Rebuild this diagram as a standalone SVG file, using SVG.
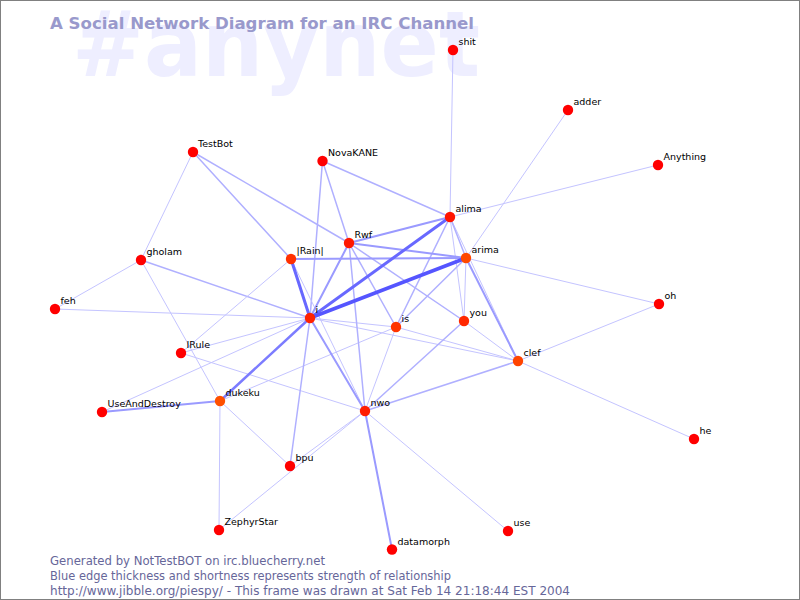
<svg xmlns="http://www.w3.org/2000/svg" width="800" height="600" viewBox="0 0 800 600">
<style>
.wm{font-family:"DejaVu Sans",sans-serif;font-weight:bold;font-size:90px;fill:#eeeeff}
.title{font-family:"DejaVu Sans",sans-serif;font-weight:bold;font-size:16.6px;fill:#9999cc}
.foot{font-family:"DejaVu Sans",sans-serif;font-size:11.5px;fill:#666699}
.lbl{font-family:"DejaVu Sans",sans-serif;font-size:9.5px;fill:#000000}
.edges line{stroke-linecap:round}
.e1{stroke:#c4c4ff;stroke-width:1}
.e2{stroke:#b0b0ff;stroke-width:1.5}
.e3{stroke:#9a9aff;stroke-width:2}
.e4{stroke:#7c7cff;stroke-width:2.5}
.e5{stroke:#6868ff;stroke-width:3}
.e6{stroke:#5555ff;stroke-width:3.5}
</style>
<rect x="0" y="0" width="800" height="600" fill="#ffffff"/>
<text class="wm" x="72" y="76" textLength="408" lengthAdjust="spacingAndGlyphs">#anynet</text>
<text class="title" x="50" y="29">A Social Network Diagram for an IRC Channel</text>
<g class="edges" id="connectors">
<line class="e1" x1="453" y1="50" x2="450" y2="217"/>
<line class="e1" x1="568" y1="110" x2="466" y2="258"/>
<line class="e1" x1="658" y1="165" x2="450" y2="217"/>
<line class="e2" x1="322.5" y1="161" x2="450" y2="217"/>
<line class="e2" x1="322.5" y1="161" x2="349" y2="243"/>
<line class="e2" x1="322.5" y1="161" x2="310" y2="318"/>
<line class="e1" x1="193" y1="152" x2="141" y2="260"/>
<line class="e2" x1="193" y1="152" x2="291" y2="259"/>
<line class="e2" x1="193" y1="152" x2="349" y2="243"/>
<line class="e1" x1="141" y1="260" x2="55" y2="309"/>
<line class="e2" x1="141" y1="260" x2="310" y2="318"/>
<line class="e1" x1="141" y1="260" x2="220" y2="401"/>
<line class="e1" x1="55" y1="309" x2="310" y2="318"/>
<line class="e1" x1="291" y1="259" x2="181" y2="353"/>
<line class="e1" x1="291" y1="259" x2="365" y2="411"/>
<line class="e1" x1="181" y1="353" x2="310" y2="318"/>
<line class="e1" x1="181" y1="353" x2="365" y2="411"/>
<line class="e1" x1="102" y1="412" x2="310" y2="318"/>
<line class="e1" x1="220" y1="401" x2="396" y2="327"/>
<line class="e1" x1="220" y1="401" x2="219" y2="530"/>
<line class="e1" x1="220" y1="401" x2="290" y2="466"/>
<line class="e1" x1="290" y1="466" x2="365" y2="411"/>
<line class="e1" x1="219" y1="530" x2="365" y2="411"/>
<line class="e1" x1="365" y1="411" x2="396" y2="327"/>
<line class="e1" x1="365" y1="411" x2="508" y2="531"/>
<line class="e1" x1="310" y1="318" x2="396" y2="327"/>
<line class="e1" x1="310" y1="318" x2="518" y2="361"/>
<line class="e1" x1="450" y1="217" x2="464" y2="321"/>
<line class="e1" x1="450" y1="217" x2="518" y2="361"/>
<line class="e1" x1="466" y1="258" x2="464" y2="321"/>
<line class="e1" x1="466" y1="258" x2="659" y2="304"/>
<line class="e1" x1="396" y1="327" x2="518" y2="361"/>
<line class="e1" x1="464" y1="321" x2="518" y2="361"/>
<line class="e1" x1="518" y1="361" x2="659" y2="304"/>
<line class="e1" x1="518" y1="361" x2="694" y2="439"/>
<line class="e2" x1="290" y1="466" x2="310" y2="318"/>
<line class="e2" x1="365" y1="411" x2="349" y2="243"/>
<line class="e2" x1="365" y1="411" x2="464" y2="321"/>
<line class="e2" x1="365" y1="411" x2="518" y2="361"/>
<line class="e2" x1="349" y1="243" x2="396" y2="327"/>
<line class="e2" x1="349" y1="243" x2="464" y2="321"/>
<line class="e2" x1="450" y1="217" x2="466" y2="258"/>
<line class="e2" x1="450" y1="217" x2="396" y2="327"/>
<line class="e2" x1="466" y1="258" x2="396" y2="327"/>
<line class="e3" x1="291" y1="259" x2="466" y2="258"/>
<line class="e3" x1="102" y1="412" x2="220" y2="401"/>
<line class="e3" x1="365" y1="411" x2="310" y2="318"/>
<line class="e3" x1="365" y1="411" x2="392" y2="549.5"/>
<line class="e3" x1="310" y1="318" x2="349" y2="243"/>
<line class="e3" x1="349" y1="243" x2="450" y2="217"/>
<line class="e3" x1="349" y1="243" x2="466" y2="258"/>
<line class="e3" x1="466" y1="258" x2="518" y2="361"/>
<line class="e4" x1="220" y1="401" x2="310" y2="318"/>
<line class="e5" x1="291" y1="259" x2="310" y2="318"/>
<line class="e5" x1="310" y1="318" x2="450" y2="217"/>
<line class="e6" x1="310" y1="318" x2="466" y2="258"/>
</g>
<g id="node-shit"><circle cx="453" cy="50" r="5.2" fill="#ff0000"/><text class="lbl" x="458.5" y="45">shit</text></g>
<g id="node-adder"><circle cx="568" cy="110" r="5.2" fill="#ff0000"/><text class="lbl" x="573.5" y="105">adder</text></g>
<g id="node-NovaKANE"><circle cx="322.5" cy="161" r="5.2" fill="#ff0000"/><text class="lbl" x="328" y="156">NovaKANE</text></g>
<g id="node-Anything"><circle cx="658" cy="165" r="5.2" fill="#ff0000"/><text class="lbl" x="663.5" y="160">Anything</text></g>
<g id="node-TestBot"><circle cx="193" cy="152" r="5.2" fill="#ff0000"/><text class="lbl" x="198" y="147">TestBot</text></g>
<g id="node-alima"><circle cx="450" cy="217" r="5.2" fill="#ff1400"/><text class="lbl" x="455.5" y="212">alima</text></g>
<g id="node-Rwf"><circle cx="349" cy="243" r="5.2" fill="#ff1800"/><text class="lbl" x="354.5" y="238">Rwf</text></g>
<g id="node-arima"><circle cx="466" cy="258" r="5.2" fill="#ff4800"/><text class="lbl" x="471.5" y="253">arima</text></g>
<g id="node-Rain"><circle cx="291" cy="259" r="5.2" fill="#ff3000"/><text class="lbl" x="296.5" y="254">|Rain|</text></g>
<g id="node-gholam"><circle cx="141" cy="260" r="5.2" fill="#ff0000"/><text class="lbl" x="146.5" y="255">gholam</text></g>
<g id="node-feh"><circle cx="55" cy="309" r="5.2" fill="#ff0000"/><text class="lbl" x="60.5" y="304">feh</text></g>
<g id="node-oh"><circle cx="659" cy="304" r="5.2" fill="#ff0000"/><text class="lbl" x="664.5" y="299">oh</text></g>
<g id="node-i"><circle cx="310" cy="318" r="5.2" fill="#ff2200"/><text class="lbl" x="315.5" y="313">i</text></g>
<g id="node-is"><circle cx="396" cy="327" r="5.2" fill="#ff3300"/><text class="lbl" x="401.5" y="322">is</text></g>
<g id="node-you"><circle cx="464" cy="321" r="5.2" fill="#ff2800"/><text class="lbl" x="469.5" y="316">you</text></g>
<g id="node-IRule"><circle cx="181" cy="353" r="5.2" fill="#ff0000"/><text class="lbl" x="186.5" y="348">IRule</text></g>
<g id="node-clef"><circle cx="518" cy="361" r="5.2" fill="#ff4400"/><text class="lbl" x="523.5" y="356">clef</text></g>
<g id="node-dukeku"><circle cx="220" cy="401" r="5.2" fill="#ff5000"/><text class="lbl" x="225.5" y="396">dukeku</text></g>
<g id="node-UseAndDestroy"><circle cx="102" cy="412" r="5.2" fill="#ff0000"/><text class="lbl" x="107.5" y="407">UseAndDestroy</text></g>
<g id="node-nwo"><circle cx="365" cy="411" r="5.2" fill="#ff1c00"/><text class="lbl" x="370.5" y="406">nwo</text></g>
<g id="node-he"><circle cx="694" cy="439" r="5.2" fill="#ff0000"/><text class="lbl" x="699.5" y="434">he</text></g>
<g id="node-bpu"><circle cx="290" cy="466" r="5.2" fill="#ff0000"/><text class="lbl" x="295.5" y="461">bpu</text></g>
<g id="node-ZephyrStar"><circle cx="219" cy="530" r="5.2" fill="#ff0000"/><text class="lbl" x="224.5" y="525">ZephyrStar</text></g>
<g id="node-use"><circle cx="508" cy="531" r="5.2" fill="#ff0000"/><text class="lbl" x="513.5" y="526">use</text></g>
<g id="node-datamorph"><circle cx="392" cy="549.5" r="5.2" fill="#ff0000"/><text class="lbl" x="397.5" y="544.5">datamorph</text></g>
<text class="foot" x="50" y="565" textLength="275" lengthAdjust="spacingAndGlyphs">Generated by NotTestBOT on irc.bluecherry.net</text>
<text class="foot" x="50" y="580" textLength="401" lengthAdjust="spacingAndGlyphs">Blue edge thickness and shortness represents strength of relationship</text>
<text class="foot" x="50" y="595" textLength="520" lengthAdjust="spacingAndGlyphs">http://www.jibble.org/piespy/ - This frame was drawn at Sat Feb 14 21:18:44 EST 2004</text>
<rect x="0.5" y="0.5" width="799" height="599" fill="none" stroke="#808080" stroke-width="1"/>
</svg>
